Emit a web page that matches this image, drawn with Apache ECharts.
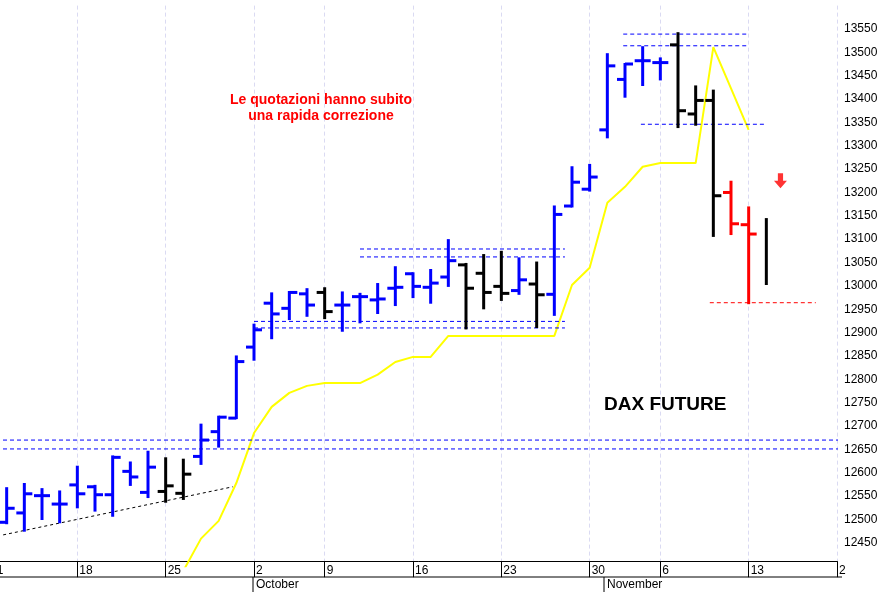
<!DOCTYPE html>
<html>
<head>
<meta charset="utf-8">
<script src="https://cdn.jsdelivr.net/npm/echarts@6/dist/echarts.min.js"></script>
<style>html,body{margin:0;padding:0;background:#fff}#chart{width:892px;height:592px}</style>
</head>
<body>
<div id="chart"></div>
<script>
// trading days, Sep 11 .. Nov 20 (day of month)
var days = [11,12,13,14,15,18,19,20,21,22,25,26,27,28,29,
  2,4,5,6,9,10,11,12,13,16,17,18,19,20,23,24,25,26,27,
  30,31,2,3,6,7,8,9,10,13,14,15,16,17,20];
var mondays = [0,5,10,15,19,24,29,34,38,43,48];
var mondayLabels = ['11','18','25','2','9','16','23','30','6','13','2'];

// OHLC bars, index = trading day
var barIdx = [1,2,3,4,5,6,7,8,9,10,11,12,13,14,15,16,17,18,19,20,21,22,23,24,25,26,27,28,29,30,31,32,33,34,35,36,37,38,39,40,41,42,43,44];
var opens  = [12494,12514,12551,12533,12574,12570,12553,12603,12558,12560,12556,12635,12688,12717,12869,12963,12952,12983,12986,12959,12977,12970,12995,13026,12997,13019,13045,13027,12999,12990,13004,12982,13171,13207,13334,13442,13482,13478,13516,13368,13397,13200,13131,null];
var highs  = [12567,12576,12565,12560,12613,12572,12635,12622,12645,12631,12628,12703,12720,12849,12917,12984,12987,12993,12995,12986,12983,13004,13040,13027,13034,13098,13047,13066,13073,13059,13050,13170,13254,13259,13496,13475,13511,13487,13541,13427,13418,13223,13168,13143];
var lows   = [12492,12476,12501,12494,12526,12519,12508,12574,12548,12538,12544,12619,12656,12717,12842,12888,12929,12936,12931,12904,12922,12942,12959,12976,12964,13000,12909,12952,12970,12983,12912,12938,13170,13204,13318,13405,13430,13442,13340,13345,13107,13111,12963,13004];
var closes = [12524,12555,12551,12533,12555,12553,12633,12591,12612,12572,12597,12670,12719,12838,12906,12940,12986,12959,12945,12959,12977,12972,12997,12999,13006,13054,12995,12986,12984,13013,12981,13153,13222,13233,13471,13475,13482,13478,13375,13397,13193,13133,13111,null];
var barColors = ['b','b','b','b','b','b','b','b','b','k','k','b','b','b','b','b','b','b','k','b','b','b','b','b','b','b','k','k','k','b','k','b','b','b','b','b','b','b','k','k','k','r','r','k'];

// yellow line
var avgIdx = [11,12,13,14,15,16,17,18,19,20,21,22,23,24,25,26,27,28,29,30,31,32,33,34,35,36,37,38,39,40,41,42,43];
var avgVals = [12390,12459,12497,12578,12685,12741,12771,12786,12792,12792,12792,12810,12837,12848,12848,12893,12893,12893,12893,12893,12893,12893,13002,13039,13178,13212,13255,13263,13263,13263,13511,13423,13334];

// dashed levels: [value, from index, to index, colour]
var levels = [
  [12670, 0, 48.4, '#0000ff'], [12651, 0, 48.4, '#0000ff'],
  [12924, 15, 32.6, '#0000ff'], [12910, 15, 32.6, '#0000ff'],
  [13079, 21, 32.6, '#0000ff'], [13062, 21, 32.6, '#0000ff'],
  [13539, 35.9, 42.9, '#0000ff'], [13514, 35.9, 42.9, '#0000ff'],
  [13346, 36.9, 43.9, '#0000ff'],
  [12964, 40.8, 46.8, '#ff0000']
];
var trendLine = [[0.8, 12467], [13.8, 12570]];
var arrowPoint = [44.8, 13225];

var colorMap = {b: '#0000ff', k: '#000000', r: '#ff0000'};
var ohlc = barIdx.map(function (d, k) {
  return [d, opens[k] == null ? '-' : opens[k], highs[k], lows[k], closes[k] == null ? '-' : closes[k]];
});

var series = [{
  type: 'line', xAxisIndex: 1, data: avgIdx.map(function (d, k) { return [d, avgVals[k]]; }),
  symbol: 'none', lineStyle: {color: '#ffff00', width: 2}, clip: true, z: 1
}];
levels.forEach(function (lv) {
  series.push({type: 'line', xAxisIndex: 1, data: [[lv[1], lv[0]], [lv[2], lv[0]]], symbol: 'none',
    lineStyle: {color: lv[3], width: 1, type: [4, 3]}, z: 2});
});
series.push({type: 'line', xAxisIndex: 1, data: trendLine, symbol: 'none',
  lineStyle: {color: '#000', width: 1, type: [3, 3]}, z: 2});
series.push({
  type: 'custom', xAxisIndex: 0, data: ohlc, z: 5,
  renderItem: function (params, api) {
    var i = api.value(0);
    var top = api.coord([i, api.value(2)]);
    var bot = api.coord([i, api.value(3)]);
    var col = colorMap[barColors[params.dataIndex]];
    var st = {stroke: col, lineWidth: 3};
    var ch = [{type: 'line', shape: {x1: top[0], y1: top[1] - 1, x2: bot[0], y2: bot[1] + 1}, style: st}];
    var o = api.value(1), c = api.value(4);
    if (!isNaN(o)) {
      var yo = api.coord([i, o])[1];
      ch.push({type: 'line', shape: {x1: top[0] - 8, y1: yo, x2: top[0], y2: yo}, style: st});
    }
    if (!isNaN(c)) {
      var yc = api.coord([i, c])[1];
      ch.push({type: 'line', shape: {x1: top[0], y1: yc, x2: top[0] + 8, y2: yc}, style: st});
    }
    return {type: 'group', children: ch};
  }
});
series.push({type: 'scatter', xAxisIndex: 1, data: [arrowPoint], z: 6,
  symbol: 'path://M3,0 L7,0 L7,6 L10,6 L5,12 L0,6 L3,6 Z', symbolSize: [13, 15],
  itemStyle: {color: '#ff0000'}});

var chart = echarts.init(document.getElementById('chart'));
chart.setOption({
  animation: false,
  grid: {left: -11, right: 55, top: 5.6, bottom: 25.8, outerBoundsMode: 'none', containLabel: false},
  xAxis: [{
    type: 'category', data: days, boundaryGap: false, offset: -5,
    axisLine: {lineStyle: {color: '#000', width: 1}},
    axisTick: {length: 16, interval: function (i) { return mondays.indexOf(i) >= 0; }, lineStyle: {color: '#000'}},
    axisLabel: {
      interval: function (i) { return mondays.indexOf(i) >= 0; },
      formatter: function (v, i) { var k = mondays.indexOf(i); return k >= 0 ? mondayLabels[k] : ''; },
      align: 'left', margin: 3, padding: [0, 0, 0, 2], color: '#000', fontSize: 12,
      fontFamily: 'Liberation Sans Narrow, Liberation Sans, Arial'
    },
    splitLine: {show: true, interval: function (i) { return mondays.indexOf(i) >= 0; },
      lineStyle: {color: '#dadaf2', type: [4, 3]}}
  }, {
    type: 'value', min: 0, max: 48, show: false
  }],
  yAxis: {
    type: 'value', position: 'right', min: 12400, max: 13600, interval: 50,
    axisLine: {show: true, lineStyle: {color: '#000'}},
    axisTick: {show: true, length: 6, lineStyle: {color: '#000'}},
    minorTick: {show: true, splitNumber: 5, length: 3, lineStyle: {color: '#000'}},
    splitLine: {show: false},
    axisLabel: {showMinLabel: false, showMaxLabel: false, color: '#000', fontSize: 12, margin: 7,
      fontFamily: 'Liberation Sans, Arial', formatter: function (v) { return String(v); }}
  },
  series: series,
  graphic: [
    {type: 'line', shape: {x1: 0, y1: 577, x2: 842, y2: 577}, style: {stroke: '#000', lineWidth: 1}},
    {type: 'line', shape: {x1: 253, y1: 577, x2: 253, y2: 592}, style: {stroke: '#000', lineWidth: 1}},
    {type: 'line', shape: {x1: 604, y1: 577, x2: 604, y2: 592}, style: {stroke: '#000', lineWidth: 1}},
    {type: 'text', left: 256, top: 579, style: {text: 'October', fill: '#000', font: '12px Liberation Sans Narrow, Liberation Sans'}},
    {type: 'text', left: 607, top: 579, style: {text: 'November', fill: '#000', font: '12px Liberation Sans Narrow, Liberation Sans'}},
    {type: 'text', x: 321, y: 92, z: 100, style: {text: 'Le quotazioni hanno subito\nuna rapida correzione', align: 'center', fill: '#ff0000', font: 'bold 14px Liberation Sans, Arial', lineHeight: 16}},
    {type: 'text', left: 604, top: 395, z: 100, style: {text: 'DAX FUTURE', fill: '#000', font: 'bold 19px Liberation Sans, Arial'}}
  ]
});
</script>
</body>
</html>
